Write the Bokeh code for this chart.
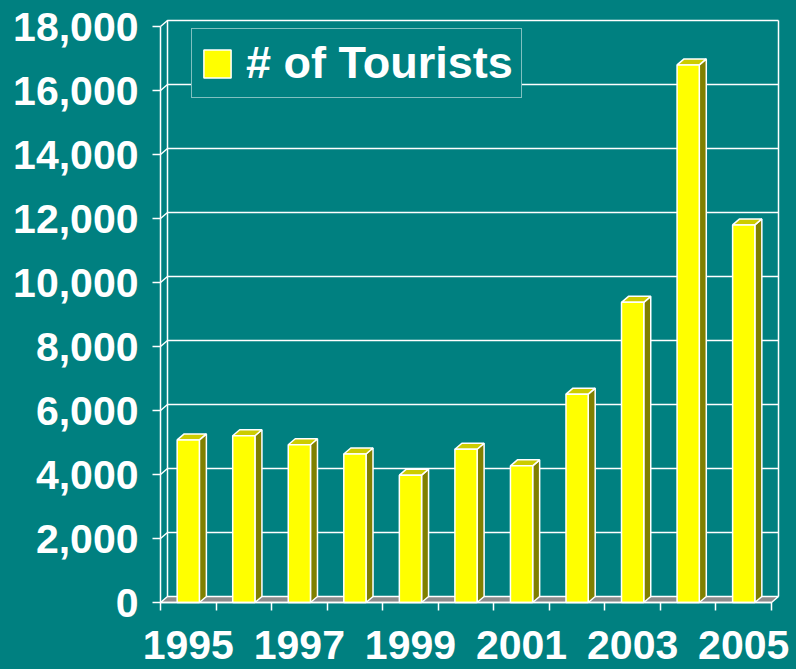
from bokeh.plotting import figure
from bokeh.models import (Range1d, LinearAxis, FixedTicker, NumeralTickFormatter,
                          Legend, LegendItem)
from bokeh.embed import file_html
from bokeh.resources import INLINE

# ---- data ----
years = ["1995", "1996", "1997", "1998", "1999", "2000",
         "2001", "2002", "2003", "2004", "2005"]
tourists = [5080, 5210, 4930, 4640, 3980, 4790, 4270, 6510, 9380, 16800, 11800]
y_ticks = [0, 2000, 4000, 6000, 8000, 10000, 12000, 14000, 16000, 18000]
series_name = "# of Tourists"

# ---- styling ----
TEAL = "#008080"
YELLOW = "#FFFF00"
SIDE = "#808000"
TOP = "#CCCC00"
FLOOR = "#8C8C8C"
FONT = "Liberation Sans"

W, H = 796, 669
origin_x_px = 160          # front y-axis position
origin_y_px = 602          # front x-axis position (from top)
top_tick_px = 26           # position of highest tick (from top)
back_right_px = 778        # right edge of back wall
depth_x_px, depth_y_px = 7, 6

n = len(years)
y_max = max(y_ticks)
px_per_cat = (back_right_px - origin_x_px - depth_x_px) / n
dx = depth_x_px / px_per_cat
units_per_px = y_max / (origin_y_px - top_tick_px)
dy = depth_y_px * units_per_px

x_start = -origin_x_px / px_per_cat
x_end = (W - origin_x_px) / px_per_cat
y_start = -(H - origin_y_px) * units_per_px
y_end = origin_y_px * units_per_px

p = figure(width=W, height=H, x_range=Range1d(x_start, x_end), y_range=Range1d(y_start, y_end),
           output_backend="svg", toolbar_location=None,
           x_axis_location=None, y_axis_location=None,
           min_border_left=0, min_border_right=0, min_border_top=0, min_border_bottom=0,
           background_fill_color=TEAL, border_fill_color=TEAL, outline_line_color=None)
p.xgrid.visible = False
p.ygrid.visible = False

# ---- walls / gridlines ----
gx, gy = [], []
for v in y_ticks[1:]:
    gx.append([0, dx, n + dx]); gy.append([v, v + dy, v + dy])
gx.append([dx, dx]); gy.append([dy, y_max + dy])
gx.append([n + dx, n + dx]); gy.append([dy, y_max + dy])
p.multi_line(gx, gy, line_color="white", line_width=1.5)

# floor
p.patch([0, dx, n + dx, n], [0, dy, dy, 0], fill_color=FLOOR, line_color="white", line_width=1.5)

# ---- bars ----
bw = 0.4
centers = [i + 0.5 for i in range(n)]
lefts = [c - bw / 2 for c in centers]
rights = [c + bw / 2 for c in centers]
side_xs = [[r, r + dx, r + dx, r] for r in rights]
side_ys = [[0, dy, v + dy, v] for v in tourists]
top_xs = [[l, l + dx, r + dx, r] for l, r in zip(lefts, rights)]
top_ys = [[v, v + dy, v + dy, v] for v in tourists]
p.patches(side_xs, side_ys, fill_color=SIDE, line_color="white", line_width=1.5)
p.patches(top_xs, top_ys, fill_color=TOP, line_color="white", line_width=1.5)
front = p.quad(left=lefts, right=rights, bottom=0, top=tourists,
               fill_color=YELLOW, line_color="white", line_width=1.5)

# ---- axes ----
yaxis = LinearAxis(fixed_location=0,
                   ticker=FixedTicker(ticks=y_ticks),
                   formatter=NumeralTickFormatter(format="0,0"),
                   bounds=(0, y_max),
                   axis_line_color="white", axis_line_width=1.5,
                   major_tick_line_color="white", major_tick_line_width=1.5,
                   major_tick_out=8, major_tick_in=0, minor_tick_out=0, minor_tick_in=0,
                   major_label_standoff=14,
                   major_label_text_font=FONT, major_label_text_font_size="41px",
                   major_label_text_font_style="bold", major_label_text_color="white")
p.add_layout(yaxis, "left")

label_pos = [centers[i] for i in range(0, n, 2)]
overrides = {centers[i]: years[i] for i in range(0, n, 2)}
xaxis = LinearAxis(fixed_location=0,
                   ticker=FixedTicker(ticks=label_pos, minor_ticks=list(range(n + 1))),
                   major_label_overrides=overrides,
                   bounds=(0, n),
                   axis_line_color="white", axis_line_width=1.5,
                   major_tick_out=0, major_tick_in=0,
                   minor_tick_out=8, minor_tick_in=0,
                   minor_tick_line_color="white", minor_tick_line_width=1.5,
                   major_label_standoff=20,
                   major_label_text_font=FONT, major_label_text_font_size="41px",
                   major_label_text_font_style="bold", major_label_text_color="white")
p.add_layout(xaxis, "below")

# ---- legend ----
legend = Legend(items=[LegendItem(label=series_name, renderers=[front])],
                location=(191, H - 98), margin=0, padding=8, spacing=0,
                glyph_width=34, glyph_height=35, label_standoff=12,
                label_text_font=FONT, label_text_font_size="45px",
                label_text_font_style="bold", label_text_color="white",
                background_fill_color=TEAL, background_fill_alpha=1,
                border_line_color="white", border_line_width=1.5)
p.add_layout(legend)

html = file_html(p, INLINE)
html = html.replace("</head>", "<style>body{background:#008080;}</style></head>", 1)
open("out.html", "w").write(html)
